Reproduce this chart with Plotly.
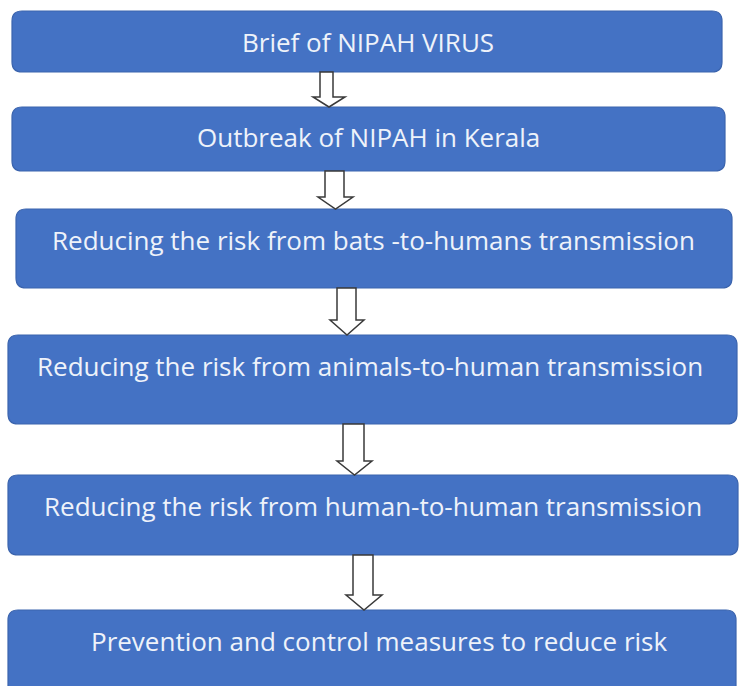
import plotly.graph_objects as go

# ---- content ----
labels = [
    "Brief of NIPAH VIRUS",
    "Outbreak of NIPAH in Kerala",
    "Reducing the risk from bats -to-humans transmission",
    "Reducing the risk from animals-to-human transmission",
    "Reducing the risk from human-to-human transmission",
    "Prevention and control measures to reduce risk",
]

# ---- layout geometry (pixels, y downward) ----
box_left = [12, 12, 16, 8, 8, 8]
box_right = [722, 725, 732, 737, 738, 736]
box_top = [11, 107, 209, 335, 475, 610]
box_bottom = [72, 171, 288, 424, 555, 700]
text_x = [368, 368, 373, 370, 373, 379]
text_y = [42, 137, 240, 366, 506, 641]

arrow_shaft_l = [320, 325, 337, 343, 353]
arrow_shaft_r = [333, 344, 356, 364, 373]
arrow_head_l = [313, 318, 330, 337, 346]
arrow_head_r = [345, 353, 364, 372, 382]
arrow_head_y = [97, 197, 320, 461, 595]

W, H = 741, 686
BLUE = "#4472C4"
EDGE = "#3B64AE"


def rounded_rect(x0, y0, x1, y1, r):
    return (f"M {x0+r},{y0} L {x1-r},{y0} Q {x1},{y0} {x1},{y0+r} "
            f"L {x1},{y1-r} Q {x1},{y1} {x1-r},{y1} L {x0+r},{y1} "
            f"Q {x0},{y1} {x0},{y1-r} L {x0},{y0+r} Q {x0},{y0} {x0+r},{y0} Z")


shapes = []
for i in range(len(labels)):
    shapes.append(dict(type="path", xref="x", yref="y",
                       path=rounded_rect(box_left[i], box_top[i], box_right[i], box_bottom[i], 10),
                       fillcolor=BLUE, line=dict(color=EDGE, width=1.2), layer="below"))

for i in range(len(arrow_shaft_l)):
    top = box_bottom[i]
    tip = box_top[i + 1]
    sl, sr = arrow_shaft_l[i], arrow_shaft_r[i]
    hl, hr = arrow_head_l[i], arrow_head_r[i]
    hy = arrow_head_y[i]
    cx = (hl + hr) / 2
    path = (f"M {sl},{top} L {sr},{top} L {sr},{hy} L {hr},{hy} L {cx},{tip} "
            f"L {hl},{hy} L {sl},{hy} Z")
    shapes.append(dict(type="path", xref="x", yref="y", path=path,
                       fillcolor="white", line=dict(color="#3a3a3a", width=1.5)))

annotations = []
for i, lab in enumerate(labels):
    annotations.append(dict(x=text_x[i], y=text_y[i], xref="x", yref="y", text=lab,
                            showarrow=False, xanchor="center", yanchor="middle",
                            font=dict(family="Open Sans", size=26, color="#EEF2FA")))

fig = go.Figure()
fig.add_trace(go.Scatter(x=[0, W], y=[0, H], mode="markers",
                         marker=dict(opacity=0), hoverinfo="skip", showlegend=False))
fig.update_layout(
    width=W, height=H, margin=dict(l=0, r=0, t=0, b=0),
    paper_bgcolor="white", plot_bgcolor="white",
    xaxis=dict(range=[0, W], visible=False, fixedrange=True),
    yaxis=dict(range=[H, 0], visible=False, fixedrange=True),
    shapes=shapes, annotations=annotations, showlegend=False,
)
fig.write_html("out.html", config={"displayModeBar": False},
               post_script="document.body.style.margin='0px';document.body.style.overflow='hidden';")
